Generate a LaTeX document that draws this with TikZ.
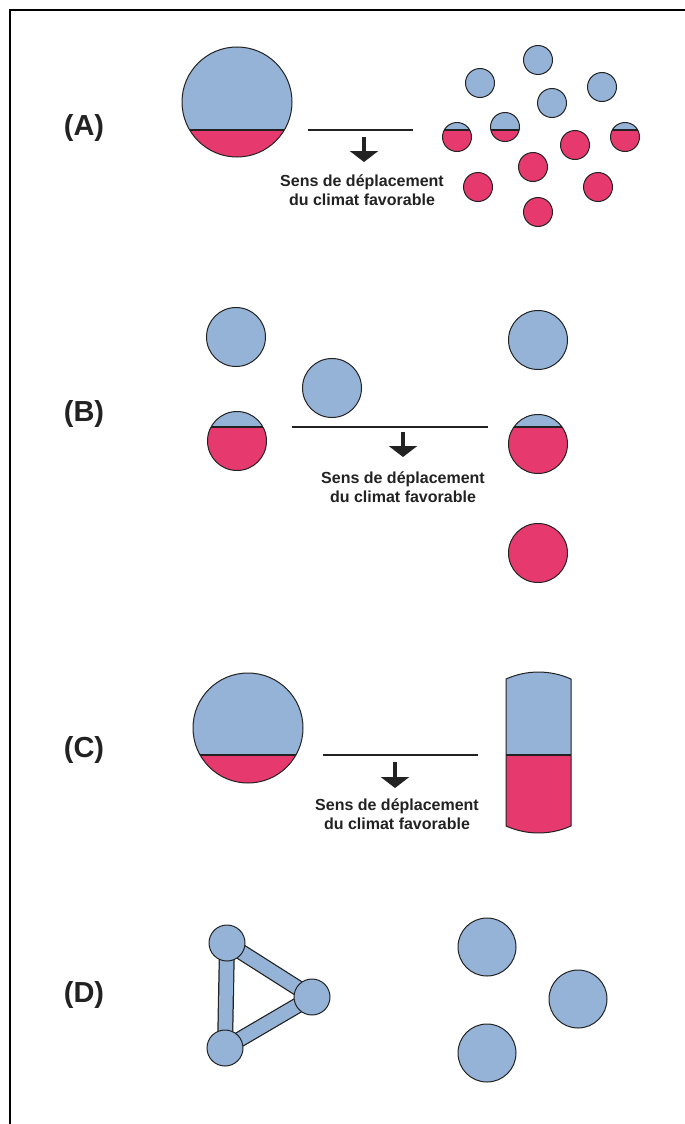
\documentclass[tikz,border=0pt]{standalone}
\usepackage{fontspec}
\setmainfont{Liberation Sans}
\usetikzlibrary{arrows.meta,positioning,calc}
\definecolor{sky}{HTML}{95B3D7}
\definecolor{rose}{HTML}{E63A6F}
\definecolor{ink}{HTML}{222222}

\begin{document}
\begin{tikzpicture}[x=1pt,y=-1pt,
  disc/.style={circle,draw=ink,line width=1pt,fill=sky,inner sep=0pt,outer sep=0pt},
  wet/.style={disc,fill=rose},
  split/.style={disc,fill=rose,path picture={
    \fill[sky] (path picture bounding box.north west) rectangle ([yshift=#1]path picture bounding box.east);
    \draw[ink,line width=1.2pt] ([yshift=#1]path picture bounding box.west) -- ([yshift=#1]path picture bounding box.east);}},
  small/.style={minimum size=29pt},
  mid/.style={minimum size=59pt},
  big/.style={minimum size=110pt},
  bead/.style={disc,minimum size=36pt},
  front/.style={ink,line width=1.2pt},
  drop/.style={ink,line width=3.5pt,-{Triangle[width=28pt,length=11pt]}},
  caption/.style={align=center,inner sep=0pt,text=ink,font=\fontsize{16}{19}\selectfont\bfseries},
  tag/.style={inner sep=0pt,text=ink,font=\fontsize{29}{33}\selectfont\bfseries}]
  \useasboundingbox (0,0) rectangle (685,1124);
  \draw[black,line width=2pt] (10,1124) -- (10,10) -- (685,10);

  % (A) one large range splits into fragments
  \node[tag] (tagA) at (84,128) {(A)};
  \node[split=-28pt,big] (wholeA) at (237,102) {};
  \coordinate (frontAl) at (308,130);
  \coordinate (frontAr) at (413,130);
  \draw[front] (frontAl) -- (frontAr);
  \coordinate (dropAs) at (364,137);
  \coordinate (dropAe) at (364,162);
  \draw[drop] (dropAs) -- (dropAe);
  \node[caption] (capA) at (362,190) {Sens de déplacement\\du climat favorable};
  \foreach \x/\y [count=\i] in {538/60,480/83,602/87,552/103}
    \node[disc,small] (dryA\i) at (\x,\y) {};
  \foreach \x/\y [count=\i] in {575/145,533/167,478/187,598/187,538/212}
    \node[wet,small] (wetA\i) at (\x,\y) {};
  \node[split=7pt,small] (edgeA1) at (457,137) {};
  \node[split=-3pt,small] (edgeA2) at (505,127) {};
  \node[split=7pt,small] (edgeA3) at (625,137) {};

  % (B)
  \node[tag] (tagB) at (84,414) {(B)};
  \node[disc,mid] (leftB1) at (236,337) {};
  \node[split=14pt,mid] (leftB2) at (237,441) {};
  \node[disc,mid] (moveB) at (332,388) {};
  \coordinate (frontBl) at (292,427);
  \coordinate (frontBr) at (488,427);
  \draw[front] (frontBl) -- (frontBr);
  \coordinate (dropBs) at (403,432);
  \coordinate (dropBe) at (403,457);
  \draw[drop] (dropBs) -- (dropBe);
  \node[caption] (capB) at (403,487) {Sens de déplacement\\du climat favorable};
  \node[disc,mid] (rightB1) at (538,340) {};
  \node[split=17pt,mid] (rightB2) at (538,444) {};
  \node[wet,mid] (rightB3) at (538,553) {};

  % (C)
  \node[tag] (tagC) at (84,750) {(C)};
  \node[split=-27pt,big] (wholeC) at (248,728) {};
  \coordinate (frontCl) at (323,755);
  \coordinate (frontCr) at (478,755);
  \draw[front] (frontCl) -- (frontCr);
  \coordinate (dropCs) at (395,762);
  \coordinate (dropCe) at (395,788);
  \draw[drop] (dropCs) -- (dropCe);
  \node[caption] (capC) at (397,814) {Sens de déplacement\\du climat favorable};
  % stretched range
  \draw[ink,line width=1pt,path picture={
      \fill[sky] (500,660) rectangle (580,755);
      \fill[rose] (500,755) rectangle (580,845);}]
    (506,679) .. controls (527,669.7) and (550,669.7) .. (571,679) -- (571,826)
    .. controls (550,835.3) and (527,835.3) .. (506,826) -- cycle;
  \draw[front] (506,755) -- (571,755);

  % (D)
  \node[tag] (tagD) at (84,995) {(D)};
  \coordinate (knotD1) at (227,943);
  \coordinate (knotD2) at (312,997);
  \coordinate (knotD3) at (225,1048);
  \draw[ink,line width=16pt,line join=miter] (knotD1) -- (knotD2) -- (knotD3) -- cycle;
  \draw[sky,line width=13.5pt,line join=miter] (knotD1) -- (knotD2) -- (knotD3) -- cycle;
  \foreach \i in {1,2,3}
    \node[bead] (beadD\i) at (knotD\i) {};
  \node[disc,minimum size=58pt] (isleD1) at (487,947) {};
  \node[disc,minimum size=58pt] (isleD2) at (578,999) {};
  \node[disc,minimum size=58pt] (isleD3) at (487,1053) {};
\end{tikzpicture}
\end{document}
